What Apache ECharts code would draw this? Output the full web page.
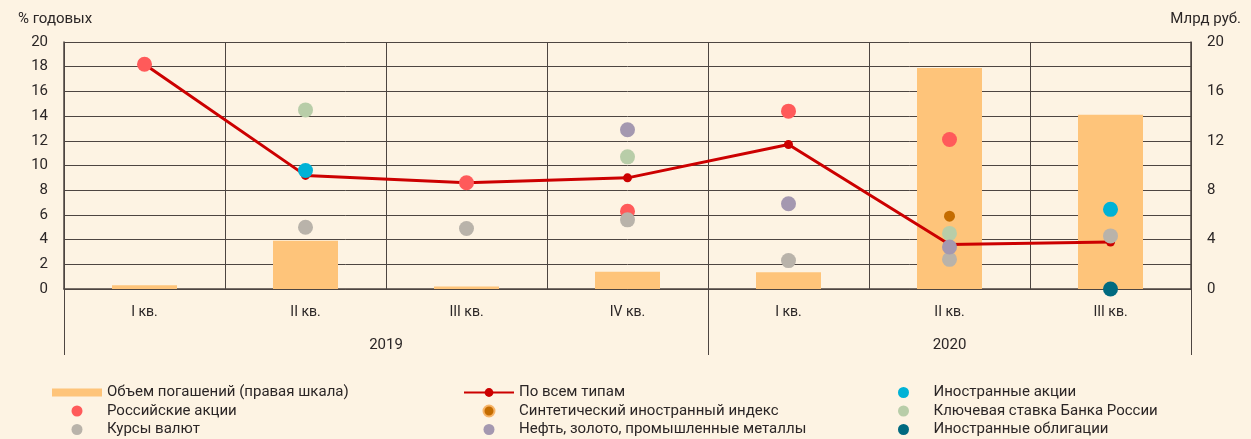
<!DOCTYPE html>
<html>
<head>
<meta charset="utf-8">
<script src="https://cdn.jsdelivr.net/npm/echarts@6/dist/echarts.min.js"></script>
<style>
html,body{margin:0;padding:0;background:#fdf3e3;}
#chart{width:1251px;height:439px;}
</style>
</head>
<body>
<div id="chart"></div>
<script>
// данные графика
var quarters = ['I кв.', 'II кв.', 'III кв.', 'IV кв.', 'I кв.', 'II кв.', 'III кв.'];
var years = ['2019', '2020'];
var volume = [0.3, 3.9, 0.2, 1.4, 1.35, 17.9, 14.1];          // Объем погашений, млрд руб.
var allTypes = [18.2, 9.2, 8.6, 9.0, 11.7, 3.6, 3.8];         // По всем типам
var rusShares = [18.2, null, 8.6, 6.3, 14.4, 12.1, null];
var currency = [null, 5.0, 4.9, 5.6, 2.3, 2.4, 4.3];
var keyRate = [null, 14.5, null, 10.7, null, 4.5, null];
var synthIndex = [null, null, null, null, null, 5.9, null];
var metals = [null, null, null, 12.9, 6.9, 3.4, null];
var foreignShares = [null, 9.6, null, null, null, null, 6.45];
var foreignBonds = [null, null, null, null, null, null, 0];

var FONT = 'Roboto';
var TXT = '#2b2626';
var GRID = '#4d4541';

// разделители лет: 0, 4 и 7 категорий (шаг 0.5)
var yearLineColors = [];
for (var i = 0; i <= 14; i++) {
	yearLineColors.push(i === 0 || i === 8 || i === 14 ? GRID : 'rgba(0,0,0,0)');
}

function dot(name, data, color, size) {
	return {
		name: name, type: 'scatter', data: data,
		xAxisIndex: 0, yAxisIndex: 0,
		symbol: 'circle', symbolSize: size || 15,
		itemStyle: {color: color, opacity: 1},
		z: 5
	};
}

function legendCol(left, items) {
	return {
		orient: 'vertical', left: left, top: 385, height: 80, padding: 0,
		itemWidth: 50, itemHeight: 11, itemGap: 3.5,
		textStyle: {fontSize: 15, color: TXT, lineHeight: 15, fontFamily: FONT},
		data: items
	};
}

var chart = echarts.init(document.getElementById('chart'));
chart.setOption({
	backgroundColor: '#fdf3e3',
	textStyle: {fontFamily: FONT},
	animation: false,
	title: [
		{text: '% годовых', left: 13, top: 7, textStyle: {fontSize: 15, fontWeight: 'normal', color: TXT, fontFamily: FONT}},
		{text: 'Млрд руб.', right: 5, top: 7, textStyle: {fontSize: 15, fontWeight: 'normal', color: TXT, fontFamily: FONT}}
	],
	grid: [
		{left: 64, right: 60, top: 42, bottom: 150},
		{left: 64, right: 60, top: 289, bottom: 84}
	],
	xAxis: [
		{
			type: 'category', gridIndex: 0, data: quarters,
			axisTick: {show: false},
			axisLine: {lineStyle: {color: GRID, width: 1.5}},
			axisLabel: {color: TXT, fontSize: 14, margin: 16},
			splitLine: {show: true, interval: 0, lineStyle: {color: GRID, width: 1}}
		},
		{
			type: 'value', gridIndex: 1, min: 0, max: 7, interval: 0.5,
			axisTick: {show: false},
			axisLine: {show: false},
			axisLabel: {
				inside: true, margin: 2, color: TXT, fontSize: 15,
				formatter: function (v) {
					if (v === 2) return years[0];
					if (v === 5.5) return years[1];
					return '';
				}
			},
			splitLine: {show: true, lineStyle: {color: yearLineColors, width: 1}}
		}
	],
	yAxis: [
		{
			type: 'value', gridIndex: 0, min: 0, max: 20, interval: 2,
			axisLine: {show: true, lineStyle: {color: GRID, width: 1.5}},
			axisTick: {show: false},
			axisLabel: {color: TXT, fontSize: 15, margin: 16},
			splitLine: {show: true, lineStyle: {color: GRID, width: 1}}
		},
		{
			type: 'value', gridIndex: 0, min: 0, max: 20, interval: 4,
			position: 'right',
			axisLine: {show: true, lineStyle: {color: GRID, width: 1.5}},
			axisTick: {show: false},
			axisLabel: {color: TXT, fontSize: 15, margin: 16},
			splitLine: {show: false}
		},
		{type: 'value', gridIndex: 1, show: false, min: 0, max: 1}
	],
	legend: [
		legendCol(52, [
			{name: 'Объем погашений (правая шкала)', icon: 'path://M0,0H50V8H0Z'},
			{name: 'Российские акции', icon: 'circle'},
			{name: 'Курсы валют', icon: 'circle'}
		]),
		legendCol(463, [
			{name: 'По всем типам'},
			{name: 'Синтетический иностранный индекс', icon: 'circle', itemStyle: {borderColor: '#f7b468', borderWidth: 2}},
			{name: 'Нефть, золото, промышленные металлы', icon: 'circle'}
		]),
		legendCol(898, [
			{name: 'Иностранные акции', icon: 'circle'},
			{name: 'Ключевая ставка Банка России', icon: 'circle'},
			{name: 'Иностранные облигации', icon: 'circle'}
		])
	],
	series: [
		{
			name: 'Объем погашений (правая шкала)', type: 'bar', data: volume,
			xAxisIndex: 0, yAxisIndex: 1, barWidth: 65,
			itemStyle: {color: '#fec47a'}, z: 2
		},
		{
			name: 'По всем типам', type: 'line', data: allTypes,
			xAxisIndex: 0, yAxisIndex: 0,
			symbol: 'circle', symbolSize: 9, showAllSymbol: true,
			lineStyle: {color: '#cc0000', width: 3},
			itemStyle: {color: '#cc0000'}, z: 4
		},
		dot('Российские акции', rusShares, '#ff5a5a'),
		dot('Курсы валют', currency, '#b9b3aa'),
		dot('Ключевая ставка Банка России', keyRate, '#b8cda8'),
		dot('Синтетический иностранный индекс', synthIndex, '#c46c00', 11),
		dot('Нефть, золото, промышленные металлы', metals, '#a498b0'),
		dot('Иностранные акции', foreignShares, '#00b2d6'),
		dot('Иностранные облигации', foreignBonds, '#006a80')
	]
});
</script>
</body>
</html>
